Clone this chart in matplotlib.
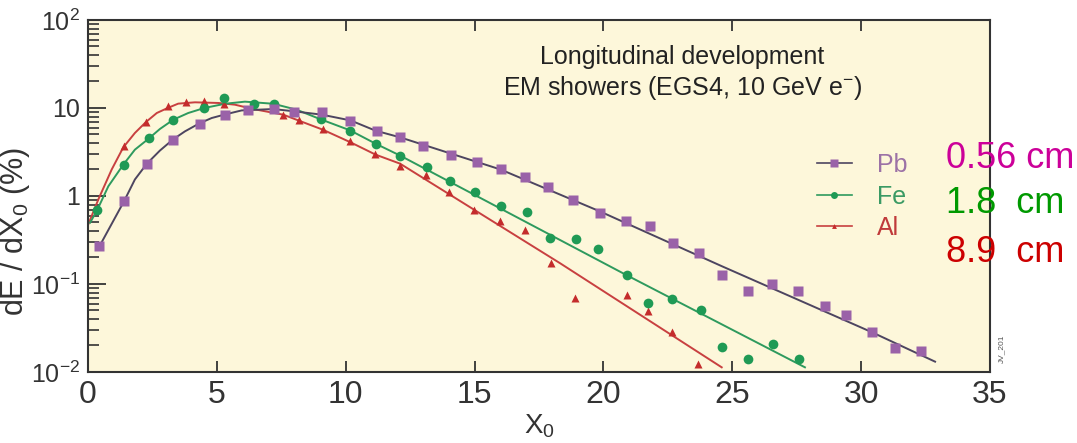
import matplotlib
matplotlib.use("Agg")
import matplotlib.pyplot as plt
from matplotlib.lines import Line2D
from matplotlib.ticker import LogLocator, NullFormatter

plt.rcParams["font.family"] = ["Liberation Sans", "DejaVu Sans"]
plt.rcParams["mathtext.fontset"] = "custom"
plt.rcParams["mathtext.rm"] = "Liberation Sans"
plt.rcParams["mathtext.it"] = "Liberation Sans:italic"
plt.rcParams["mathtext.default"] = "regular"

# Simulated points (EGS4, 10 GeV e-)
pb_x = [0.43, 1.40, 2.29, 3.30, 4.35, 5.32, 6.21, 7.22, 7.99, 9.08, 10.17, 11.21,
        12.11, 13.0, 14.09, 15.1, 16.03, 16.96, 17.85, 18.82, 19.87, 20.88, 21.81,
        22.7, 23.71, 24.6, 25.61, 26.54, 27.55, 28.6, 29.41, 30.42, 31.32, 32.32]
pb_y = [0.27, 0.873, 2.33, 4.37, 6.63, 8.39, 9.55, 9.73, 9.0, 9.0, 7.17, 5.52,
        4.64, 3.67, 2.90, 2.42, 2.0, 1.65, 1.27, 0.905, 0.645, 0.514, 0.455,
        0.29, 0.223, 0.127, 0.0834, 0.101, 0.0834, 0.0555, 0.0443, 0.0282, 0.0187, 0.0172]

fe_x = [0.36, 1.40, 2.37, 3.30, 4.50, 5.28, 6.44, 7.22, 9.04, 10.17, 11.18, 12.11,
        13.14, 14.05, 15.02, 16.01, 17.02, 17.93, 18.93, 19.80, 20.90, 21.74, 22.67,
        23.78, 24.61, 25.62, 26.57, 27.60]
fe_y = [0.69, 2.27, 4.52, 7.36, 9.94, 13.06, 11.17, 11.17, 7.51, 5.42, 3.90, 2.84,
        2.12, 1.47, 1.10, 0.76, 0.655, 0.333, 0.321, 0.252, 0.126, 0.0605, 0.0672,
        0.0508, 0.0194, 0.014, 0.0208, 0.014]

al_x = [1.41, 2.24, 3.10, 3.80, 4.52, 5.28, 6.18, 7.56, 8.17, 9.10, 10.17, 11.14,
        12.11, 13.10, 14.01, 14.99, 15.99, 16.96, 17.97, 18.90, 20.90, 21.74, 22.67, 23.68]
al_y = [3.67, 6.98, 10.4, 11.8, 12.1, 11.0, 9.55, 8.39, 7.36, 5.82, 4.18, 3.03,
        2.18, 1.75, 1.10, 0.685, 0.518, 0.407, 0.175, 0.0702, 0.0752, 0.0495, 0.0286, 0.0123]

# Fitted curves
pb_fit_x = [0.45, 1.40, 1.82, 2.28, 2.79, 3.29, 3.76, 4.32, 4.80, 5.32, 5.96, 7.19,
            8.03, 9.08, 10.19, 11.16, 12.11, 16.01, 19.87, 24.60, 30.43, 32.87]
pb_fit_y = [0.27, 0.873, 1.54, 2.32, 3.28, 4.37, 5.42, 6.68, 7.69, 8.45, 9.38, 9.73,
            9.14, 8.39, 7.22, 5.52, 4.64, 2.0, 0.667, 0.159, 0.0282, 0.0131]

fe_fit_x = [0.08, 0.35, 0.79, 1.37, 1.82, 2.34, 2.79, 3.31, 3.89, 4.51, 5.32, 6.09,
            7.19, 8.10, 9.0, 10.17, 11.16, 12.11, 20.90, 27.82]
fe_fit_y = [0.497, 0.685, 1.29, 2.27, 3.36, 4.45, 5.77, 7.36, 8.77, 9.99, 11.17, 11.8,
            11.17, 9.55, 7.49, 5.57, 3.93, 2.88, 0.126, 0.0113]

al_fit_x = [0.01, 0.40, 0.92, 1.37, 1.82, 2.25, 2.67, 3.09, 3.50, 4.15, 5.06, 5.70,
            6.41, 7.58, 8.19, 9.11, 10.19, 11.16, 12.11, 18.32, 24.59]
al_fit_y = [0.475, 0.912, 2.0, 3.57, 5.2, 6.93, 8.77, 9.99, 11.2, 11.6, 11.4, 10.9,
            9.73, 8.39, 7.17, 5.67, 4.07, 2.95, 2.33, 0.172, 0.0113]

materials = ["Pb", "Fe", "Al"]
radiation_lengths = ["0.56 cm", "1.8  cm", "8.9  cm"]

fig = plt.figure(figsize=(10.77, 4.43), dpi=100)
ax = fig.add_axes([0.0817, 0.1603, 0.8375, 0.7946])
ax.set_facecolor("#fdf7da")

pb_col, fe_col, al_col = "#9a62a8", "#1f9a55", "#c42c2c"

ax.plot(al_fit_x, al_fit_y, color="#c84040", lw=1.4, zorder=2)
ax.plot(fe_fit_x, fe_fit_y, color="#2e9a5e", lw=1.4, zorder=2)
ax.plot(pb_fit_x, pb_fit_y, color="#4d4560", lw=1.4, zorder=2)
ax.plot(al_x, al_y, "^", color=al_col, ms=5.5, mec="none", zorder=3)
ax.plot(fe_x, fe_y, "o", color=fe_col, ms=7, mec="none", zorder=3)
ax.plot(pb_x, pb_y, "s", color=pb_col, ms=7.5, mec="none", zorder=4)

ax.set_yscale("log")
ax.set_xlim(0, 35)
ax.set_ylim(1e-2, 1e2)
ax.set_xticks(range(0, 36, 5))
ax.set_yticks([1e-2, 1e-1, 1, 10, 1e2],
              ["$10^{-2}$", "$10^{-1}$", "1", "10", "$10^{2}$"])
ax.yaxis.set_minor_locator(LogLocator(base=10, subs=range(2, 10)))
ax.yaxis.set_minor_formatter(NullFormatter())

ax.tick_params(axis="x", which="both", direction="in", top=True, bottom=True,
               length=8, width=1.3, labelsize=23, pad=6, color="#333333",
               labelcolor="#333333")
ax.tick_params(axis="y", which="major", direction="in", left=True, right=False,
               length=13, width=1.3, labelsize=18, pad=6, color="#333333",
               labelcolor="#333333")
ax.tick_params(axis="y", which="minor", direction="in", left=True, right=False,
               length=8, width=1.2, color="#333333")
for sp in ax.spines.values():
    sp.set_linewidth(1.5)
    sp.set_color("#333333")

ax.set_xlabel("X$_0$", fontsize=20, color="#333333")
ax.xaxis.set_label_coords(0.5, -0.115)
ax.set_ylabel("dE / dX$_0$ (%)", fontsize=22, color="#333333")
ax.yaxis.set_label_coords(-0.062, 0.4)

ax.text(0.659, 0.848, "Longitudinal development\nEM showers (EGS4, 10 GeV e$^{-}$)",
        transform=ax.transAxes, ha="center", va="center", fontsize=18,
        color="#222222", linespacing=1.25)

handles = [
    Line2D([], [], color="#4d4560", lw=1.2, marker="s", ms=6, mfc=pb_col, mec="none"),
    Line2D([], [], color="#2e9a5e", lw=1.2, marker="o", ms=5, mfc=fe_col, mec="none"),
    Line2D([], [], color="#c84040", lw=1.2, marker="^", ms=3.5, mfc=al_col, mec="none"),
]
leg = ax.legend(handles, materials, loc="upper left", bbox_to_anchor=(0.794, 0.657),
                frameon=False, fontsize=18, handlelength=1.4, handletextpad=1.0,
                labelspacing=0.3, borderpad=0, numpoints=1)
for txt, c in zip(leg.get_texts(), ["#9c72a6", "#3a9a64", "#c03a3a"]):
    txt.set_color(c)

for label, c, y in zip(radiation_lengths, ["#cc0099", "#009900", "#cc0000"], [159, 203, 252]):
    fig.text(946 / 1077, 1 - y / 443, label, ha="left", va="center", fontsize=26, color=c)

fig.text(1002 / 1077, 1 - 349 / 443, "JV_201", rotation=90, ha="center", va="center",
         fontsize=6, color="#555555")

fig.savefig("out.png", dpi=100)
